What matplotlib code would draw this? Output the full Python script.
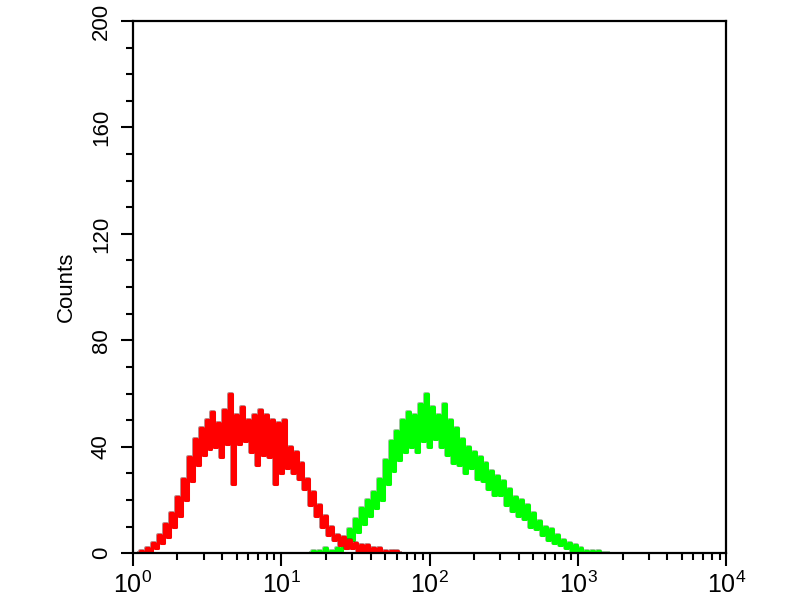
import matplotlib
matplotlib.use("Agg")
import matplotlib.pyplot as plt
import numpy as np

plt.rcParams['font.family'] = ['Liberation Sans', 'DejaVu Sans']
plt.rcParams['mathtext.fontset'] = 'custom'
plt.rcParams['mathtext.rm'] = 'Liberation Sans'

# channel grid (log10 of fluorescence), 0.02 decade per channel
step = 0.02
red_start = 0.04
green_start = 1.20

# red histogram counts (isotype control)
red_counts = [0, 1, 0, 2, 1, 4, 2, 7, 4, 11, 6, 15, 10, 21, 14, 28, 20, 36, 27, 43,
              33, 47, 37, 50, 39, 53, 40, 49, 36, 54, 41, 60, 26, 52, 41, 55, 42, 50, 38, 52,
              33, 54, 37, 52, 36, 50, 26, 49, 30, 50, 32, 40, 30, 38, 28, 34, 24, 28, 18, 23,
              14, 18, 10, 14, 7, 10, 5, 7, 3, 6, 2, 5, 2, 4, 1, 3, 1, 3, 0, 2,
              0, 2, 0, 1, 0, 1, 0, 1, 0]

# green histogram counts (antibody stained)
green_counts = [0, 1, 0, 1, 0, 2, 0, 1, 1, 2, 1, 4, 2, 9, 5, 13, 8, 17, 11, 20,
                14, 23, 17, 28, 20, 35, 26, 42, 31, 46, 35, 50, 38, 53, 40, 52, 38, 56, 42, 60,
                40, 55, 43, 52, 40, 56, 37, 50, 34, 47, 33, 43, 30, 40, 32, 38, 28, 36, 27, 34,
                24, 31, 22, 29, 22, 27, 18, 24, 16, 21, 14, 20, 13, 18, 10, 15, 9, 12, 7, 10,
                5, 9, 4, 7, 3, 5, 2, 4, 1, 3, 1, 2, 0, 1, 0, 1, 0, 1, 0, 0, 0]

y_ticks = [0, 40, 80, 120, 160, 200]
x_ticks = [1, 10, 100, 1000, 10000]
x_labels = ['$10^{0}$', '$10^{1}$', '$10^{2}$', '$10^{3}$', '$10^{4}$']

red_x = 10 ** (red_start + step * np.arange(len(red_counts)))
green_x = 10 ** (green_start + step * np.arange(len(green_counts)))

fig = plt.figure(figsize=(8, 6), dpi=100)
ax = fig.add_axes([0.166, 0.078, 0.742, 0.887])

for xs, ys, dark, bright in [(green_x, green_counts, '#3d8a3d', '#00ff00'),
                             (red_x, red_counts, '#7a1010', '#ff0000')]:
    ax.plot(xs, ys, color=dark, lw=2.8, alpha=0.5, drawstyle='steps-mid')
    ax.plot(xs, ys, color=bright, lw=2.2, drawstyle='steps-mid')

ax.set_xscale('log')
ax.set_xlim(1, 10000)
ax.set_ylim(0, 200)
ax.set_yticks(y_ticks)
ax.set_yticks(np.arange(0, 201, 10), minor=True)
ax.set_xticks(x_ticks)
ax.set_xticklabels(x_labels)

for s in ax.spines.values():
    s.set_linewidth(1.6)

ax.tick_params(axis='both', which='major', length=9, width=1.5, direction='out')
ax.tick_params(axis='both', which='minor', length=5, width=1.5, direction='out')
ax.tick_params(axis='x', labelsize=18, pad=4)
ax.tick_params(axis='y', labelsize=16, pad=6)
plt.setp(ax.get_yticklabels(), rotation=90, va='center')

ax.set_ylabel('Counts', fontsize=16, labelpad=10)

fig.savefig('out.png', dpi=100)
